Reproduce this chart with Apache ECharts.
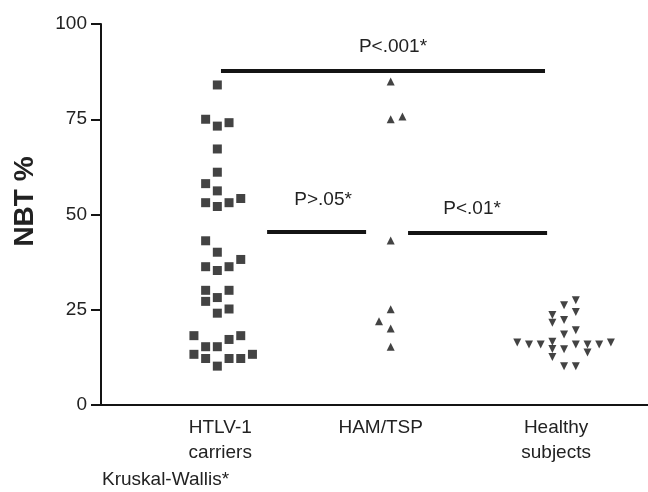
<!DOCTYPE html>
<html>
<head>
<meta charset="utf-8">
<script src="https://cdn.jsdelivr.net/npm/echarts@6/dist/echarts.min.js"></script>
<style>
  html, body { margin: 0; padding: 0; background: #fff; }
  #chart { width: 648px; height: 492px; }
</style>
</head>
<body>
<div id="chart"></div>
<script>
// group names shown under the x axis
const groups = ['HTLV-1\ncarriers', 'HAM/TSP', 'Healthy\nsubjects'];

// NBT % per subject, with the column (jitter slot) each dot sits in
const htlvValues = [84, 75, 73.2, 74.1, 67.2, 61.1, 58.1, 56.2, 53.1, 52.1, 53.1, 54.2,
  43.1, 40.1, 38.2, 36.3, 35.3, 36.3, 30.1, 30.1, 27.2, 28.2, 24.1, 25.2,
  18.2, 17.2, 18.2, 15.3, 15.3, 13.3, 13.3, 12.2, 12.2, 12.2, 10.2];
const htlvCols = [0, -1, 0, 1, 0, 0, -1, 0, -1, 0, 1, 2,
  -1, 0, 2, -1, 0, 1, -1, 1, -1, 0, 0, 1,
  -2, 1, 2, -1, 0, -2, 3, -1, 1, 2, 0];

const hamValues = [84.9, 75.0, 75.7, 43.2, 25.1, 22.0, 20.1, 15.3];
const hamCols = [0, 0, 1, 0, 0, -1, 0, 0];

const healthyValues = [27.5, 26.2, 24.4, 23.6, 21.6, 22.3, 19.6, 18.5, 16.4, 15.9, 15.9,
  16.6, 14.7, 12.6, 14.6, 15.9, 15.9, 13.8, 15.9, 16.4, 10.2, 10.2];
const healthyCols = [1, 0, 1, -1, -1, 0, 1, 0, -4, -3, -2,
  -1, -1, -1, 0, 1, 2, 2, 3, 4, 0, 1];

// y ticks
const yTicks = [0, 25, 50, 75, 100];

// significance brackets: [from, to, level, label]
const brackets = [
  [1.021, 2.890, 87.6, 'P<.001*'],
  [1.287, 1.858, 45.6, 'P>.05*'],
  [2.100, 2.902, 45.1, 'P<.01*']
];

const ink = '#141414';
const txt = '#222';
const font = 'Liberation Sans, Arial, sans-serif';
const step = 0.0675;
// where the group names sit along the axis (a bit off the dot columns in the original)
const labelAt = [1.017, 1.942, 2.954];

function toPoints(center, values, cols) {
  return values.map((v, i) => [center + cols[i] * step, v]);
}

const chart = echarts.init(document.getElementById('chart'));

const bracketLines = brackets.map((b, i) => {
  const pad = [[0, 0, 10, 20], [0, 0, 17, 13], [0, 11, 10, 0]][i];
  return [
    { coord: [b[0], b[2]], label: { padding: pad } },
    { coord: [b[1], b[2]] }
  ];
});

chart.setOption({
  animation: false,
  title: {
    text: 'Kruskal-Wallis*',
    left: 97,
    top: 465,
    textStyle: { fontFamily: font, fontSize: 19, fontWeight: 'normal', color: txt }
  },
  grid: { left: 101, right: 0, top: 24, bottom: 87 },
  xAxis: {
    type: 'value',
    min: 0.329,
    max: 3.484,
    axisLine: { show: true, onZero: false, lineStyle: { color: ink, width: 2 } },
    axisTick: { show: false },
    splitLine: { show: false },
    axisLabel: {
      customValues: labelAt,
      formatter: v => groups[labelAt.indexOf(v)],
      fontFamily: font,
      fontSize: 19,
      color: txt,
      lineHeight: 25,
      margin: 10
    }
  },
  yAxis: {
    type: 'value',
    min: yTicks[0],
    max: yTicks[yTicks.length - 1],
    interval: 25,
    name: 'NBT %',
    nameLocation: 'middle',
    nameGap: 62,
    nameTextStyle: { fontFamily: font, fontSize: 28, fontWeight: 'bold', color: txt, padding: [0, 0, 0, 26] },
    axisLine: { show: true, lineStyle: { color: ink, width: 2 } },
    axisTick: { show: true, length: 10, lineStyle: { color: ink, width: 2 } },
    splitLine: { show: false },
    axisLabel: { fontFamily: font, fontSize: 19, color: txt, margin: 14 }
  },
  series: [
    {
      name: 'HTLV-1 carriers',
      type: 'scatter',
      symbol: 'rect',
      symbolSize: 9,
      itemStyle: { color: ink },
      data: toPoints(1, htlvValues, htlvCols),
      markLine: {
        silent: true,
        symbol: 'none',
        lineStyle: { color: ink, width: 4, type: 'solid' },
        label: {
          position: 'middle',
          formatter: p => brackets[p.dataIndex][3],
          fontFamily: font,
          fontSize: 19,
          color: txt
        },
        data: bracketLines
      }
    },
    {
      name: 'HAM/TSP',
      type: 'scatter',
      symbol: 'triangle',
      symbolSize: 8,
      itemStyle: { color: ink },
      data: toPoints(2, hamValues, hamCols)
    },
    {
      name: 'Healthy subjects',
      type: 'scatter',
      symbol: 'triangle',
      symbolRotate: 180,
      symbolSize: 8,
      itemStyle: { color: ink },
      data: toPoints(3, healthyValues, healthyCols)
    }
  ]
});
</script>
</body>
</html>
